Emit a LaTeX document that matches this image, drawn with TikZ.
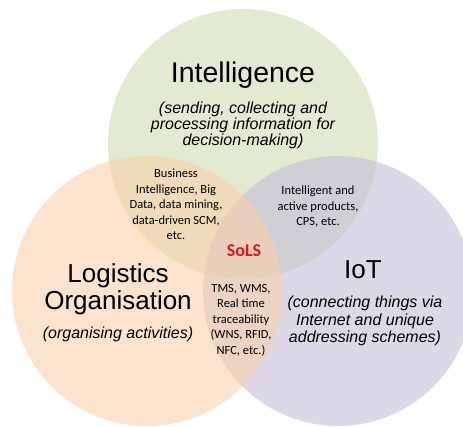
\documentclass[tikz,border=0pt]{standalone}
\usepackage{fontspec}
\setmainfont{Liberation Sans}
\newfontfamily\calibri{Carlito}

\definecolor{intelgreen}{RGB}{205,219,177}
\definecolor{logiorange}{RGB}{250,207,169}
\definecolor{iotpurple}{RGB}{196,188,215}
\definecolor{solsred}{RGB}{230,20,25}

\begin{document}
\begin{tikzpicture}[x=1pt,y=-1pt,
    venn/.style={circle,minimum size=270pt,inner sep=0pt,fill opacity=0.58},
    bigtitle/.style={font=\fontsize{26}{27}\selectfont,align=center,inner sep=0pt},
    note/.style={font=\fontsize{16}{17.5}\selectfont\itshape,align=center,inner sep=0pt},
    small/.style={font=\calibri\fontsize{12.5}{15.5}\selectfont,align=center,inner sep=0pt}]
    \useasboundingbox (0,0) rectangle (463,426);
    \clip (0,0) rectangle (463,426);

    \begin{scope}[every node/.style={venn}]
        \node[fill=intelgreen] (intel) at (243,144) {};
        \node[fill=iotpurple] (iot) at (338,291) {};
        \node[fill=logiorange] (logi) at (147,291) {};
    \end{scope}

    \node[bigtitle, font=\fontsize{28.5}{30}\selectfont, anchor=base] (inteltitle) at (243,82) {Intelligence};
    \node[note, font=\fontsize{16}{14.5}\selectfont\itshape] (intelnote) at (243,125.4)
        {(sending, collecting and\\processing information for\\decision-making)};

    \node[bigtitle] (logititle) at (118,288.8) {Logistics\\Organisation};
    \node[note, anchor=base] (loginote) at (118,338) {(organising activities)};

    \node[bigtitle, anchor=base] (iottitle) at (363,278) {IoT};
    \node[note] (iotnote) at (365,321.3)
        {(connecting things via\\Internet and unique\\addressing schemes)};

    \node[small] (intellogi) at (176,204.3)
        {Business\\Intelligence, Big\\Data, data mining,\\data-driven SCM,\\etc.};
    \node[small] (inteliot) at (318,206.8)
        {Intelligent and\\active products,\\CPS, etc.};
    \node[small] (logiiot) at (241,320)
        {TMS, WMS,\\Real time\\traceability\\(WNS, RFID,\\NFC, etc.)};
    \node[font=\calibri\bfseries\fontsize{18}{20}\selectfont, text=solsred, anchor=base,
        inner sep=0pt] (sols) at (244,256) {SoLS};
\end{tikzpicture}
\end{document}
